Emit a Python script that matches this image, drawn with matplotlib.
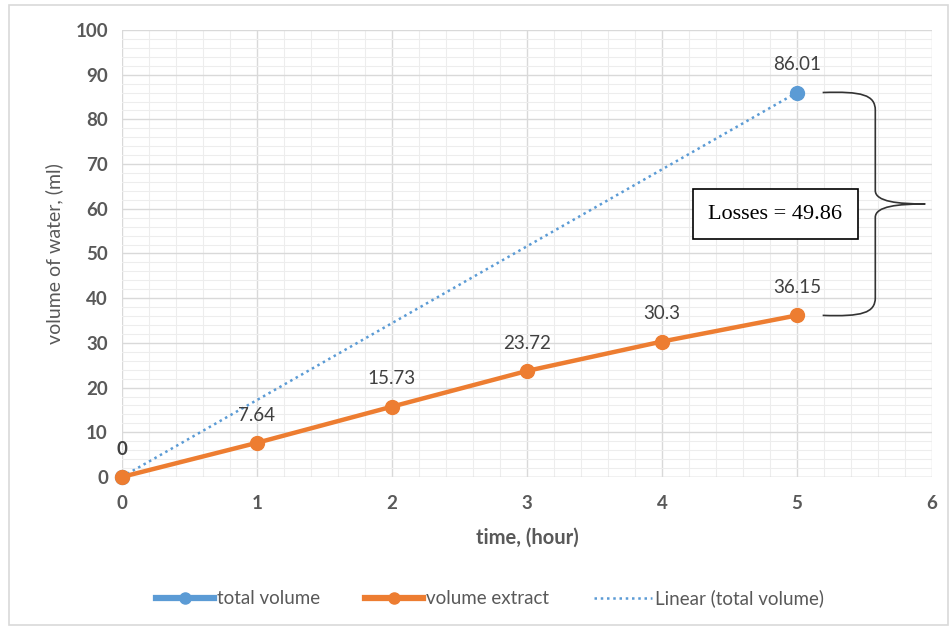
import matplotlib.pyplot as plt
import numpy as np
from matplotlib.path import Path
from matplotlib.patches import PathPatch, Rectangle
from matplotlib.lines import Line2D
from matplotlib.ticker import MultipleLocator

# measured data
time_total = [0, 5]
total_volume = [0, 86.01]
time_extract = [0, 1, 2, 3, 4, 5]
volume_extract = [0, 7.64, 15.73, 23.72, 30.3, 36.15]
losses = 49.86

blue = '#5B9BD5'
orange = '#ED7D31'
txt = '#595959'

plt.rcParams['font.family'] = ['Lato', 'DejaVu Sans']

fig = plt.figure(figsize=(9.52, 6.29), dpi=100)
ax = fig.add_axes([0.128, 0.2417, 0.851, 0.7106])

# outer chart border
fig.patches.append(Rectangle((0.009, 0.006), 0.987, 0.986, transform=fig.transFigure,
                             fill=False, edgecolor='#D9D9D9', linewidth=1.2))

ax.set_xlim(0, 6)
ax.set_ylim(0, 100)
ax.xaxis.set_major_locator(MultipleLocator(1))
ax.xaxis.set_minor_locator(MultipleLocator(0.2))
ax.yaxis.set_major_locator(MultipleLocator(10))
ax.yaxis.set_minor_locator(MultipleLocator(2))
ax.grid(which='major', color='#D9D9D9', linewidth=1.0)
ax.grid(which='minor', color='#EDEDED', linewidth=0.8)
ax.set_axisbelow(True)
for s in ax.spines.values():
    s.set_visible(False)
ax.axhline(0, color='#D9D9D9', linewidth=1.0, zorder=1)
ax.tick_params(which='both', length=0, labelsize=13.5, labelcolor=txt)
ax.tick_params(axis='x', pad=13)
ax.tick_params(axis='y', pad=10)
for lab in ax.get_xticklabels() + ax.get_yticklabels():
    lab.set_fontweight('bold')

# trendline of total volume
k, b = np.polyfit(time_total, total_volume, 1)
tx = np.array([time_total[0], time_total[-1]])
ax.plot(tx, k * tx + b, linestyle=(0, (1, 1.5)), color=blue, linewidth=1.8, zorder=2,
        clip_on=False)

ax.plot(time_total, total_volume, 'o', color=blue, markersize=10, zorder=3, clip_on=False)
ax.plot(time_extract, volume_extract, '-o', color=orange, linewidth=3.2, markersize=10,
        zorder=4, clip_on=False)

for x, y in zip(time_total, total_volume):
    ax.annotate(f'{y:g}', (x, y), xytext=(0, 20), textcoords='offset points',
                ha='center', va='center', fontsize=13.5, color='#404040',
                fontweight='bold' if y == 0 else 'normal')
for x, y in zip(time_extract[1:], volume_extract[1:]):
    ax.annotate(f'{y:g}', (x, y), xytext=(0, 20), textcoords='offset points',
                ha='center', va='center', fontsize=13.5, color='#404040')

# curly brace between the two end values
top = total_volume[-1]
bot = volume_extract[-1]
mid = (top + bot) / 2
x0, x1, xt = 5.19, 5.58, 5.95
verts = [(x0, top), (x1 - 0.1, top + 0.3), (x1, top - 0.5), (x1, top - 4),
         (x1, mid + 3),
         (x1, mid + 0.5), (xt - 0.2, mid), (xt, mid),
         (xt - 0.2, mid), (x1, mid - 0.5), (x1, mid - 3),
         (x1, bot + 4),
         (x1, bot + 0.5), (x1 - 0.1, bot - 0.3), (x0, bot)]
codes = [Path.MOVETO, Path.CURVE4, Path.CURVE4, Path.CURVE4,
         Path.LINETO,
         Path.CURVE4, Path.CURVE4, Path.CURVE4,
         Path.CURVE4, Path.CURVE4, Path.CURVE4,
         Path.LINETO,
         Path.CURVE4, Path.CURVE4, Path.CURVE4]
ax.add_patch(PathPatch(Path(verts, codes), fill=False, edgecolor='#333333',
                       linewidth=1.2, zorder=5))

ax.text(4.84, 58.8, f'Losses = {losses:g}', ha='center', va='center', fontsize=16,
        family='Liberation Serif', color='black', zorder=6,
        bbox=dict(boxstyle='square,pad=0.7', facecolor='white', edgecolor='black', linewidth=1.2))

ax.set_xlabel('time, (hour)', fontsize=14.5, color=txt, fontweight='bold', labelpad=11)
ax.set_ylabel('volume of water, (ml)', fontsize=14, color=txt, labelpad=9)

handles = [Line2D([], [], color=blue, linewidth=4.5, marker='o', markersize=8),
           Line2D([], [], color=orange, linewidth=4.5, marker='o', markersize=8),
           Line2D([], [], color=blue, linewidth=1.8, linestyle=(0, (1, 1.5)))]
fig.legend(handles, ['total volume', 'volume extract', 'Linear (total volume)'],
           loc='center', bbox_to_anchor=(0.515, 0.049), ncol=3, frameon=False,
           fontsize=13.5, labelcolor=txt, handlelength=3.1, columnspacing=2.4,
           handletextpad=0.15)

fig.savefig('out.png', dpi=100)
